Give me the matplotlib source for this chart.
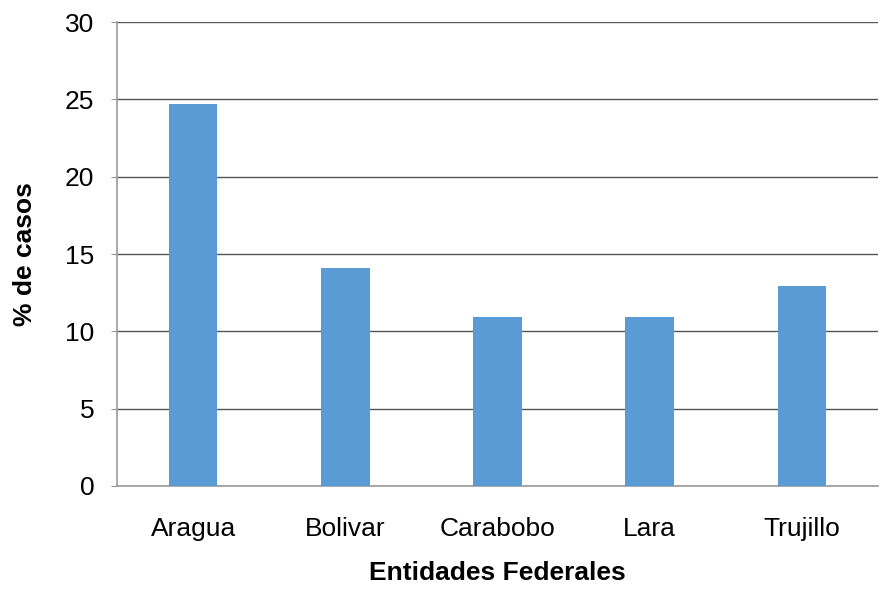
import matplotlib
matplotlib.use("Agg")
import matplotlib.pyplot as plt
import numpy as np

plt.rcParams['font.family'] = ['Liberation Sans', 'DejaVu Sans']

categories = ["Aragua", "Bolivar", "Carabobo", "Lara", "Trujillo"]
values = [24.7, 14.07, 10.95, 10.95, 12.95]
yticks = [0, 5, 10, 15, 20, 25, 30]

fig = plt.figure(figsize=(8.91, 5.96), dpi=100)
ax = fig.add_axes([0.1313, 0.1846, 0.8541, 0.7784])

x = np.arange(len(categories))
ax.bar(x, values, width=0.32, color="#5B9BD5", zorder=3)

ax.set_xlim(-0.5, len(categories) - 0.5)
ax.set_ylim(0, 30)
ax.set_yticks(yticks)
ax.set_yticklabels([str(t) for t in yticks], fontsize=19)
ax.set_xticks(x)
ax.set_xticklabels(categories, fontsize=19)
ax.yaxis.grid(True, color="#555555", linewidth=1.0, zorder=0)
ax.set_axisbelow(True)

for s in ["top", "right"]:
    ax.spines[s].set_visible(False)
ax.spines["left"].set_color("#999999")
ax.spines["bottom"].set_color("#999999")
ax.spines["left"].set_linewidth(1.2)
ax.spines["bottom"].set_linewidth(1.2)
ax.tick_params(axis="y", length=4.3, color="#999999", pad=12)
ax.tick_params(axis="x", length=0, pad=22)

ax.set_ylabel("% de casos", fontsize=19, fontweight="bold", labelpad=20)
ax.set_xlabel("Entidades Federales", fontsize=19, fontweight="bold", labelpad=15)

fig.savefig("out.png", dpi=100)
